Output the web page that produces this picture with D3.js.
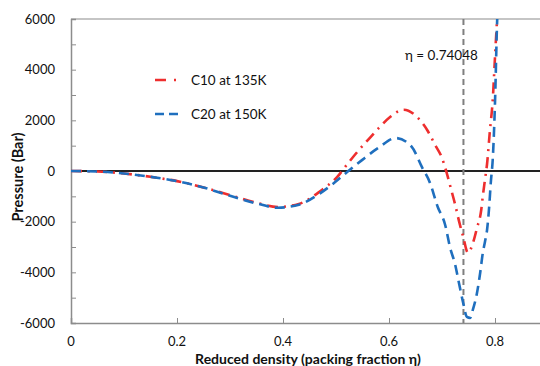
<!DOCTYPE html>
<html><head><meta charset="utf-8">
<script src="https://cdn.jsdelivr.net/npm/d3@7"></script>
<style>body{margin:0;background:#fff}svg{display:block}</style>
</head><body>
<svg id="c" width="540" height="366"></svg>
<script>
const xTicks = [0, 0.2, 0.4, 0.6, 0.8];
const xTickLabels = ["0", "0.2", "0.4", "0.6", "0.8"];
const yTicks = [-6000, -4000, -2000, 0, 2000, 4000, 6000];
const seriesNames = ["C10 at 135K", "C20 at 150K"];
const c10Eta = [0, 0.05, 0.1, 0.15, 0.2, 0.25, 0.3, 0.35, 0.39, 0.43, 0.47, 0.502, 0.523, 0.54, 0.56, 0.581, 0.602, 0.628, 0.653, 0.672, 0.687, 0.7, 0.709, 0.717, 0.725, 0.732, 0.74, 0.749, 0.759, 0.766, 0.774, 0.777, 0.781, 0.785, 0.79, 0.796, 0.8, 0.804, 0.807];
const c10P   = [0, -20, -100, -230, -400, -650, -950, -1250, -1420, -1300, -800, -240, 315, 750, 1220, 1700, 2130, 2420, 2130, 1620, 1030, 513, -80, -710, -1340, -1970, -2600, -3230, -2800, -2250, -1540, -990, -355, 276, 1500, 2900, 4500, 6000, 7000];
const c20Eta = [0, 0.05, 0.1, 0.15, 0.2, 0.25, 0.3, 0.35, 0.39, 0.43, 0.47, 0.494, 0.521, 0.549, 0.579, 0.613, 0.643, 0.662, 0.677, 0.692, 0.706, 0.715, 0.725, 0.732, 0.74, 0.747, 0.753, 0.758, 0.766, 0.772, 0.777, 0.781, 0.785, 0.789, 0.792, 0.796, 0.8, 0.804, 0.808];
const c20P   = [0, -20, -100, -230, -400, -650, -980, -1280, -1450, -1330, -880, -510, -40, 430, 900, 1300, 950, 160, -450, -1420, -2130, -3000, -3710, -4420, -5210, -5760, -5800, -5490, -4815, -4026, -3236, -2800, -2330, -1420, -474, 553, 2700, 5900, 7500];
const etaRef = 0.74048;
const etaLabel = "η = 0.74048";
const xTitle = "Reduced density (packing fraction η)";
const yTitle = "Pressure (Bar)";

const svg = d3.select("#c");
const L = 71, R = 548, T = 19, B = 323;
const x = d3.scaleLinear().domain([0, 0.9]).range([L, R]);
const y = d3.scaleLinear().domain([-6000, 6000]).range([B, T]);
const font = "Lato, 'Open Sans', sans-serif";

svg.append("defs").append("clipPath").attr("id", "clip")
  .append("rect").attr("x", L).attr("y", T).attr("width", R - L).attr("height", B - T);

// frame
svg.append("line").attr("x1", L).attr("x2", R).attr("y1", T).attr("y2", T).attr("stroke", "#8c8c8c").attr("stroke-width", 1.2);

// y axis
const ya = svg.append("g").attr("transform", `translate(${L},0)`)
  .call(d3.axisLeft(y).tickValues(d3.range(-6000, 6001, 1000)).tickSize(-5).tickFormat(""));
ya.select(".domain").attr("stroke", "#8c8c8c").attr("stroke-width", 1.5);
ya.selectAll(".tick line").attr("stroke", "#8c8c8c");
svg.append("g").selectAll("text").data(yTicks).join("text")
  .attr("x", 55).attr("y", d => y(d)).attr("dy", "0.35em").attr("text-anchor", "end")
  .attr("font-family", font).attr("font-size", 13).attr("fill", "#111").text(d => d);

// x axis
const xa = svg.append("g").attr("transform", `translate(0,${B})`)
  .call(d3.axisBottom(x).tickValues(xTicks.slice(1)).tickSize(-5).tickFormat(""));
xa.select(".domain").attr("stroke", "#8c8c8c").attr("stroke-width", 1.5);
xa.selectAll(".tick line").attr("stroke", "#8c8c8c");
svg.append("g").selectAll("text").data(xTicks).join("text")
  .attr("x", d => x(d)).attr("y", 341).attr("dy", "0.35em").attr("text-anchor", "middle")
  .attr("font-family", font).attr("font-size", 13).attr("fill", "#111").text((d, i) => xTickLabels[i]);

// zero line
svg.append("line").attr("x1", L).attr("x2", R).attr("y1", y(0)).attr("y2", y(0)).attr("stroke", "#222").attr("stroke-width", 1.8);

// reference line
svg.append("line").attr("x1", x(etaRef)).attr("x2", x(etaRef)).attr("y1", T).attr("y2", B)
  .attr("stroke", "#7f7f7f").attr("stroke-width", 2).attr("stroke-dasharray", "6,4");
svg.append("text").attr("x", 405).attr("y", 55).attr("dy", "0.35em")
  .attr("font-family", font).attr("font-size", 13.5).attr("fill", "#111").text(etaLabel);

const line = d3.line().x(d => x(d[0])).y(d => y(d[1])).curve(d3.curveMonotoneX);
const styles = [
  {color: "#ee2e2e", dash: "11,6,2,6"},
  {color: "#1f6fbe", dash: "10,6"}
];
const data = [d3.zip(c10Eta, c10P), d3.zip(c20Eta, c20P)];
const g = svg.append("g").attr("clip-path", "url(#clip)");
data.forEach((d, i) => {
  g.append("path").datum(d).attr("d", line).attr("fill", "none")
    .attr("stroke", styles[i].color).attr("stroke-width", 2.6)
    .attr("stroke-dasharray", styles[i].dash);
});

// legend
const ly = [80, 114];
seriesNames.forEach((n, i) => {
  svg.append("line").attr("x1", 155).attr("x2", 178).attr("y1", ly[i]).attr("y2", ly[i])
    .attr("stroke", styles[i].color).attr("stroke-width", 2.6).attr("stroke-dasharray", i === 0 ? "11,8,2,6" : "9,5");
  svg.append("text").attr("x", 191).attr("y", ly[i]).attr("dy", "0.35em")
    .attr("font-family", font).attr("font-size", 13.5).attr("fill", "#111").text(n);
});

// titles
svg.append("text").attr("x", 308).attr("y", 359.5).attr("dy", "0.35em").attr("text-anchor", "middle")
  .attr("font-family", font).attr("font-weight", "bold").attr("font-size", 14).attr("fill", "#111").text(xTitle);
svg.append("text").attr("transform", `translate(18,${177}) rotate(-90)`).attr("text-anchor", "middle").attr("dy", "0.35em")
  .attr("font-family", font).attr("font-weight", "bold").attr("font-size", 14.5).attr("fill", "#111").text(yTitle);
</script>
</body></html>
